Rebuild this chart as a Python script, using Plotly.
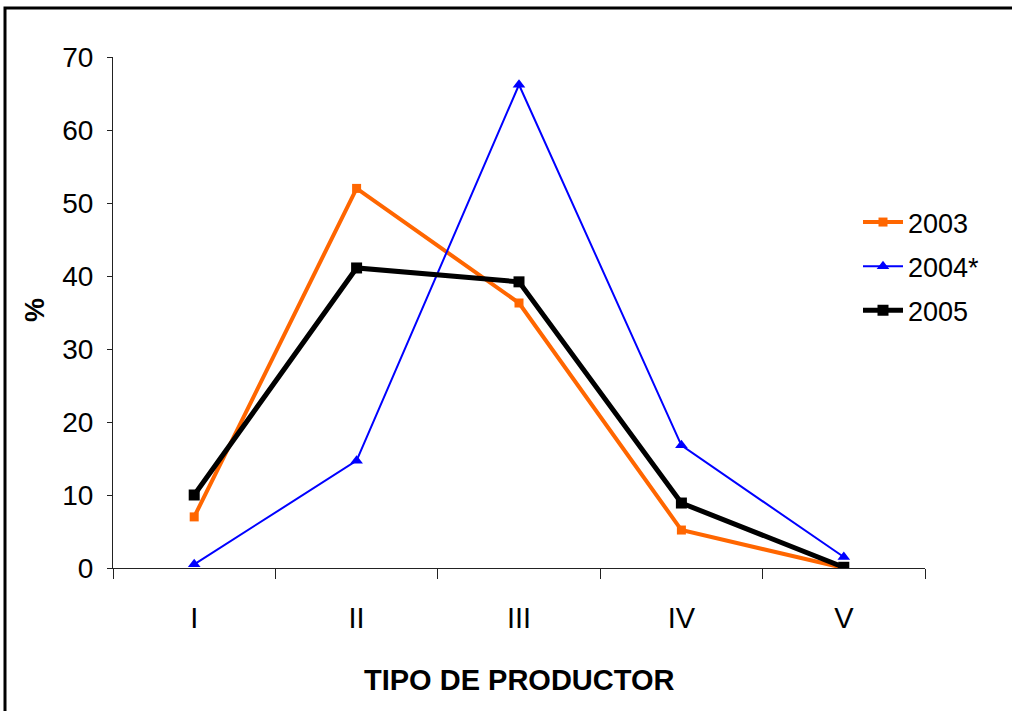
import plotly.graph_objects as go

categories = ["I", "II", "III", "IV", "V"]
series_names = ["2003", "2004*", "2005"]
values_2003 = [7, 52, 36.3, 5.2, 0]
values_2004 = [0.5, 14.7, 66.2, 16.8, 1.5]
values_2005 = [10, 41.1, 39.2, 8.9, 0.1]
y_ticks = [0, 10, 20, 30, 40, 50, 60, 70]

W, H = 1012, 711
L, R, T, B = 113, 925, 57, 568  # plot area in pixels

FONT = "Liberation Sans, Arial, sans-serif"

def px_x(px):
    return (px - L) / (R - L)

def px_y(py):
    return (B - py) / (B - T)

fig = go.Figure()
fig.add_trace(go.Scatter(
    x=categories, y=values_2003, name=series_names[0], mode="lines+markers",
    legendgroup="a",
    line=dict(color="#FF6600", width=4),
    marker=dict(symbol="square", size=9, color="#FF6600"),
))
fig.add_trace(go.Scatter(
    x=categories, y=values_2004, name=series_names[1], mode="lines+markers",
    legendgroup="b",
    line=dict(color="#0000FF", width=2),
    marker=dict(symbol="triangle-up", size=11, color="#0000FF"),
))
fig.add_trace(go.Scatter(
    x=categories, y=values_2005, name=series_names[2], mode="lines+markers",
    legendgroup="c",
    line=dict(color="#000000", width=5),
    marker=dict(symbol="square", size=11, color="#000000"),
))

fig.update_layout(
    width=W, height=H,
    margin=dict(l=L, r=W - R, t=T, b=H - B, pad=0),
    paper_bgcolor="white", plot_bgcolor="white",
    font=dict(family=FONT, color="black", size=28),
    showlegend=True,
    legend=dict(
        x=px_x(858), y=px_y(198), xanchor="left", yanchor="top",
        font=dict(family=FONT, size=27, color="black"),
        bgcolor="rgba(0,0,0,0)", tracegroupgap=6, itemwidth=40,
    ),
    xaxis=dict(
        type="category", categoryorder="array", categoryarray=categories,
        showline=True, linecolor="#222", linewidth=1,
        ticks="outside", tickson="boundaries", ticklen=10, tickcolor="#222",
        showgrid=False, zeroline=False,
        tickfont=dict(family=FONT, size=29),
        ticklabelstandoff=24,
        range=[-0.5, 4.5],
    ),
    yaxis=dict(
        range=[0, 70], tickvals=y_ticks,
        showline=True, linecolor="#222", linewidth=1,
        ticks="outside", ticklen=5, tickcolor="#222",
        showgrid=False, zeroline=False,
        tickfont=dict(family=FONT, size=28),
        ticklabelstandoff=8,
    ),
    annotations=[
        dict(text="<b>TIPO DE PRODUCTOR</b>", x=px_x(519), y=px_y(680),
             xref="paper", yref="paper", showarrow=False,
             xanchor="center", yanchor="middle",
             font=dict(family=FONT, size=29, color="black")),
        dict(text="<b>%</b>", x=px_x(35), y=px_y(310),
             xref="paper", yref="paper", showarrow=False, textangle=-90,
             xanchor="center", yanchor="middle",
             font=dict(family=FONT, size=27, color="black")),
    ],
    shapes=[
        dict(type="path", xref="paper", yref="paper",
             path=f"M {px_x(5)} {px_y(730)} L {px_x(5)} {px_y(8)} L {px_x(1030)} {px_y(8)}",
             line=dict(color="black", width=3)),
    ],
)

fig.write_html(
    "out.html",
    config={"displayModeBar": False},
    post_script="document.body.style.margin='0px';document.body.style.overflow='hidden';",
)
